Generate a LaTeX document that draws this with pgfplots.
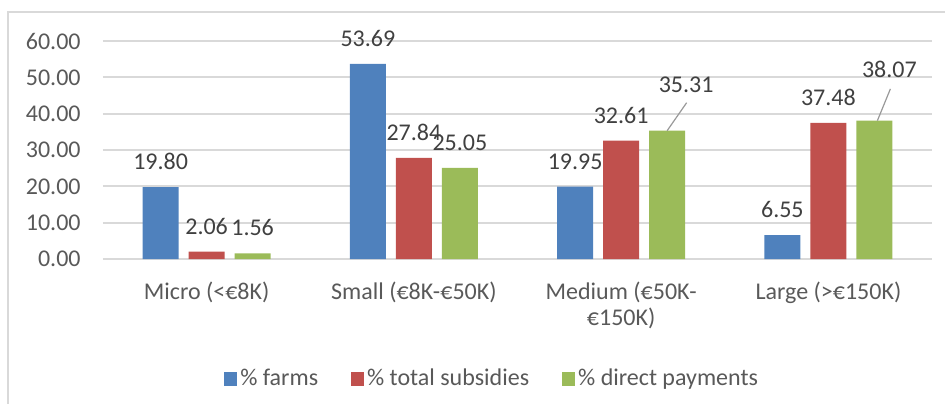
\documentclass[border=0pt]{standalone}
\usepackage{pgfplots}
\pgfplotsset{compat=1.18}
\usepackage{fontspec}
\setmainfont{Carlito}
\definecolor{cblue}{HTML}{4F81BD}
\definecolor{cred}{HTML}{C0504D}
\definecolor{cgreen}{HTML}{9BBB59}
\definecolor{gridc}{HTML}{D9D9D9}
\definecolor{tickc}{HTML}{595959}
\definecolor{labc}{HTML}{404040}
\begin{document}
\begin{tikzpicture}
\useasboundingbox (-51.5pt,-72pt) rectangle (421pt,129.5pt);
\draw[gridc, line width=1pt] (-47.5pt,-73pt) -- (-47.5pt,123.5pt) -- (422pt,123.5pt);
\begin{axis}[
  at={(0,0)}, anchor=south west, scale only axis,
  width=414.5pt, height=109pt,
  clip=false,
  ybar=5pt, bar width=18pt,
  xmin=-0.5, xmax=3.5, ymin=0, ymax=60,
  xtick={0,1,2,3},
  xticklabels={Micro (<€8K), Small (€8K-€50K), {Medium (€50K-\\€150K)}, Large (>€150K)},
  ytick={0,10,...,60},
  ymajorgrids, grid style={gridc, line width=1pt},
  axis line style={draw=none}, major tick length=0pt,
  font=\fontsize{12}{14}\selectfont,
  /pgf/number format/fixed,
  /pgf/number format/fixed zerofill,
  /pgf/number format/precision=2,
  /pgf/number format/assume math mode=true,
  yticklabel style={text=tickc, anchor=east, inner sep=0pt, xshift=-11pt},
  xticklabel style={text=tickc, anchor=north, inner sep=0pt, yshift=-11.3pt, align=center, font=\fontsize{12}{13}\selectfont},
  nodes near coords,
  nodes near coords style={text=labc, anchor=base, inner sep=0pt, yshift=8.7pt},
  legend style={at={(axis description cs:0.47,-0.55)}, anchor=center, draw=none,
    legend columns=-1, text=tickc, font=\fontsize{12}{14}\selectfont,
    nodes={inner sep=1.5pt},
    /tikz/every even column/.append style={column sep=15pt}},
]
\addplot[fill=cblue, draw=none, legend image code/.code={\fill[cblue] (0pt,-3.5pt) rectangle (6.5pt,3.5pt);}]
  table {
x y
0 19.80
1 53.69
2 19.95
3 6.55
};
\addplot[fill=cred, draw=none, legend image code/.code={\fill[cred] (0pt,-3.5pt) rectangle (6.5pt,3.5pt);}]
  table {
x y
0 2.06
1 27.84
2 32.61
3 37.48
};
\addplot[fill=cgreen, draw=none, legend image code/.code={\fill[cgreen] (0pt,-3.5pt) rectangle (6.5pt,3.5pt);},
  visualization depends on={\thisrow{dx} \as \dx},
  visualization depends on={\thisrow{dy} \as \dy},
  nodes near coords style={xshift=\dx pt, yshift=\dy pt}]
  table {
x y dx dy
0 1.56 0 0
1 25.05 0 0
2 35.31 9.5 10.5
3 38.07 7.5 12.9
};
\draw[gray!80, line width=0.6pt] ([xshift=23pt]axis cs:2,35.31) -- ([xshift=32.75pt, yshift=14pt]axis cs:2,35.31);
\draw[gray!80, line width=0.6pt] ([xshift=24.5pt]axis cs:3,38.07) -- ([xshift=31pt, yshift=15.9pt]axis cs:3,38.07);
\legend{\% farms, \% total subsidies, \% direct payments}
\end{axis}
\end{tikzpicture}
\end{document}
